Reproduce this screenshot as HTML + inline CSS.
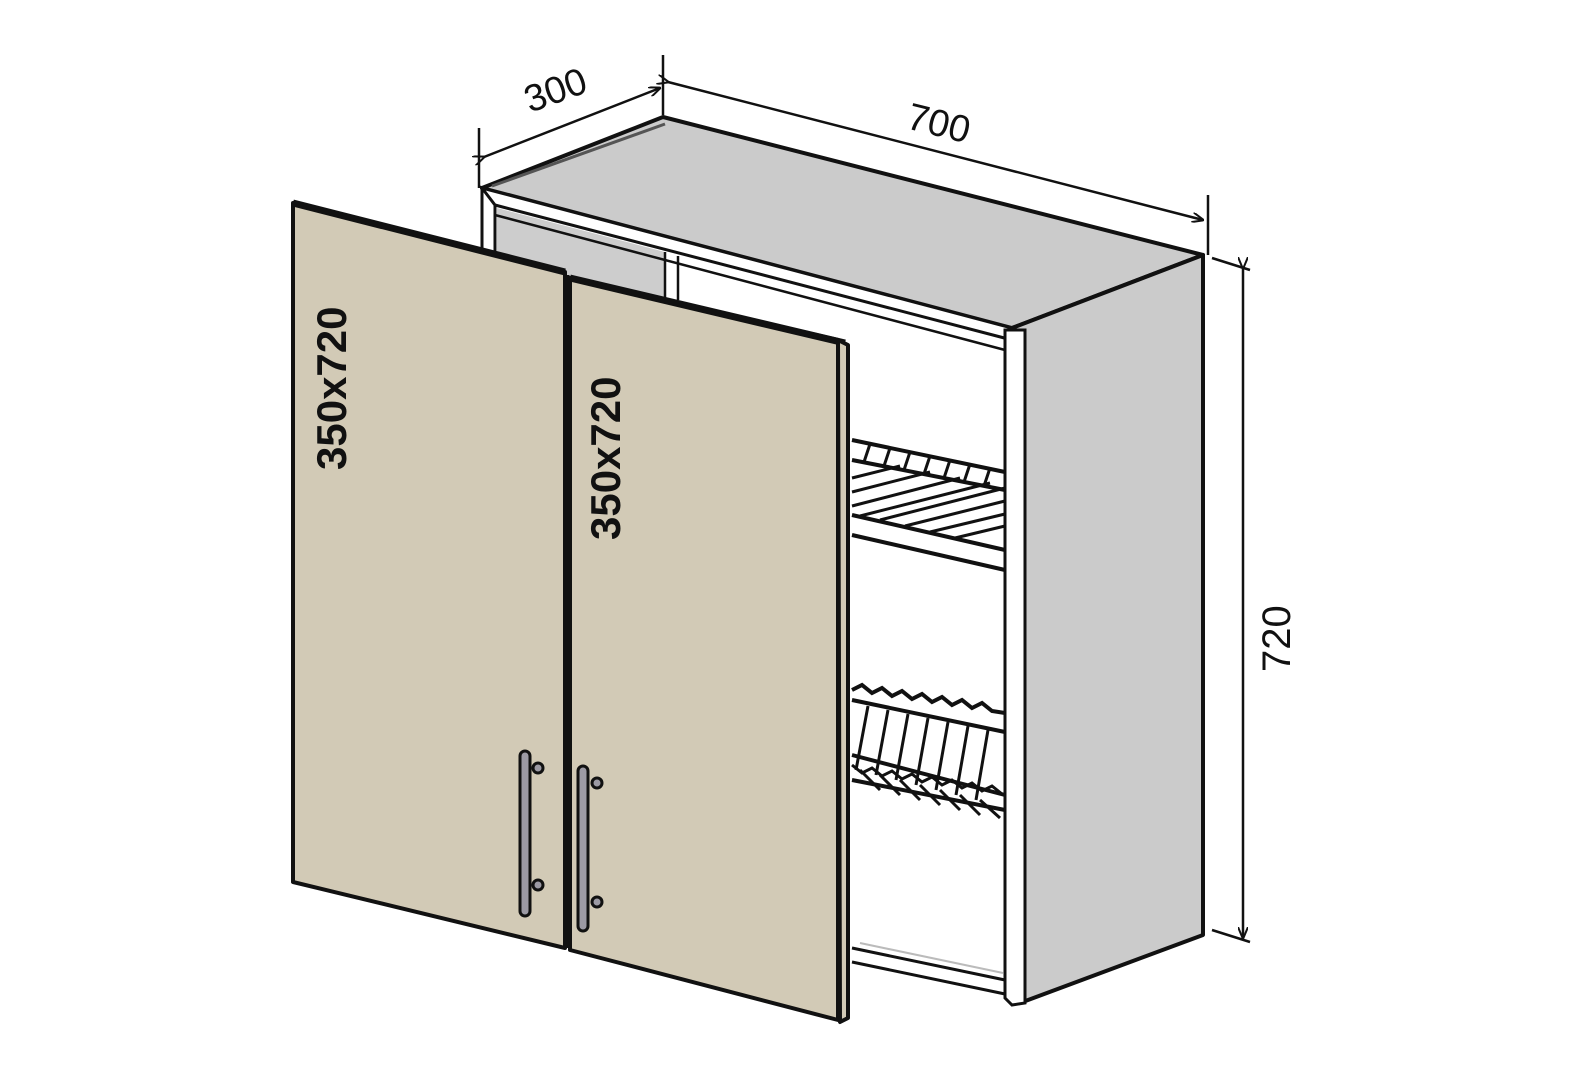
<!DOCTYPE html>
<html><head><meta charset="utf-8"><style>
html,body{margin:0;padding:0;background:#fff;width:1577px;height:1080px;overflow:hidden}
svg{display:block}
text{font-family:"Liberation Sans",sans-serif;fill:#111}
.b{font-weight:bold}
.n{font-weight:normal}
</style></head><body>
<svg width="1577" height="1080" viewBox="0 0 1577 1080" xmlns="http://www.w3.org/2000/svg">
<defs>
<marker id="ar" markerWidth="12" markerHeight="10" refX="11" refY="5" orient="auto" markerUnits="userSpaceOnUse">
<path d="M0,0 L12,5 L0,10" fill="none" stroke="#111" stroke-width="2"/></marker>
</defs>
<g stroke="#111" fill="none" stroke-width="2.5">
<line x1="479" y1="128" x2="479" y2="188"/>
<line x1="663" y1="55" x2="663" y2="115"/>
<line x1="1208" y1="195" x2="1208" y2="255"/>
<line x1="1212" y1="258" x2="1250" y2="270"/>
<line x1="1212" y1="930" x2="1250" y2="942"/>
<line x1="484" y1="157" x2="660" y2="88" marker-start="url(#ar)" marker-end="url(#ar)"/>
<line x1="668" y1="82" x2="1203" y2="220" marker-start="url(#ar)" marker-end="url(#ar)"/>
<line x1="1243" y1="268" x2="1243" y2="938" marker-start="url(#ar)" marker-end="url(#ar)"/>
</g>
<text class="n" font-size="38" transform="translate(530,113) rotate(-20)">300</text>
<text class="n" font-size="38" transform="translate(905,128) rotate(14)">700</text>
<text class="n" font-size="40" transform="translate(1290,672) rotate(-90)">720</text>

<polygon points="482,188 495,195 495,320 482,320" fill="#fff" stroke="#111" stroke-width="3"/>
<polygon points="497,208 665,252 665,300 497,260" fill="#cdcdcd"/>
<line x1="665" y1="252" x2="665" y2="300" stroke="#111" stroke-width="2.5"/>
<line x1="678" y1="256" x2="678" y2="300" stroke="#111" stroke-width="2.5"/>
<polygon points="482,188 663,117 1203,255 1012,328" fill="#cbcbcb" stroke="#111" stroke-width="4" stroke-linejoin="round"/>
<line x1="492" y1="186" x2="665" y2="124" stroke="#555" stroke-width="3"/>
<line x1="1020" y1="327" x2="1198" y2="258" stroke="#555" stroke-width="3"/>
<polygon points="482,188 1012,328 1012,340 495,205" fill="#fff" stroke="#111" stroke-width="3"/>
<line x1="495" y1="215" x2="1005" y2="350" stroke="#111" stroke-width="2.5"/>
<polygon points="1012,328 1203,255 1203,935 1020,1003" fill="#cbcbcb" stroke="#111" stroke-width="4" stroke-linejoin="round"/>
<polygon points="1005,330 1025,330 1025,1003 1012,1005 1005,998" fill="#fff" stroke="#111" stroke-width="3"/>
<line x1="852" y1="948" x2="1005" y2="980" stroke="#111" stroke-width="3"/>
<line x1="852" y1="962" x2="1005" y2="994" stroke="#111" stroke-width="3"/>
<line x1="860" y1="943" x2="1003" y2="973" stroke="#bbb" stroke-width="2"/>
<g stroke="#111" stroke-width="4" fill="none">
<line x1="852" y1="440" x2="1005" y2="472"/>
<line x1="852" y1="460" x2="1005" y2="490"/>
<line x1="852" y1="515" x2="1005" y2="550"/>
<line x1="852" y1="535" x2="1005" y2="570"/>
<g stroke-width="3">
<line x1="852" y1="478" x2="900" y2="466"/><line x1="852" y1="492" x2="930" y2="472"/>
<line x1="852" y1="506" x2="960" y2="478"/><line x1="860" y1="516" x2="990" y2="483"/>
<line x1="880" y1="520" x2="1005" y2="488"/><line x1="905" y1="526" x2="1005" y2="501"/>
<line x1="930" y1="532" x2="1005" y2="514"/><line x1="955" y1="538" x2="1005" y2="526"/>
<line x1="870" y1="444" x2="864" y2="462"/><line x1="890" y1="448" x2="884" y2="466"/>
<line x1="910" y1="452" x2="904" y2="470"/><line x1="930" y1="456" x2="924" y2="474"/>
<line x1="950" y1="460" x2="944" y2="478"/><line x1="970" y1="464" x2="964" y2="482"/>
<line x1="990" y1="468" x2="984" y2="486"/>
</g>
</g>
<g stroke="#111" stroke-width="4" fill="none">
<path d="M852,690 l10,-5 l10,8 l10,-5 l10,8 l10,-5 l10,8 l10,-5 l10,8 l10,-5 l10,8 l10,-5 l10,8 l10,-5 l10,8 l13,2"/>
<line x1="852" y1="700" x2="1005" y2="732"/>
<line x1="852" y1="755" x2="1005" y2="795"/>
<line x1="852" y1="780" x2="1005" y2="810"/>
<g stroke-width="3">
<line x1="868" y1="706" x2="856" y2="770"/><line x1="888" y1="710" x2="876" y2="775"/>
<line x1="908" y1="714" x2="896" y2="780"/><line x1="928" y1="718" x2="916" y2="785"/>
<line x1="948" y1="722" x2="936" y2="790"/><line x1="968" y1="726" x2="956" y2="795"/>
<line x1="988" y1="730" x2="976" y2="800"/>
<line x1="860" y1="770" x2="880" y2="790"/><line x1="880" y1="775" x2="900" y2="795"/>
<line x1="900" y1="780" x2="920" y2="800"/><line x1="920" y1="785" x2="940" y2="805"/>
<line x1="940" y1="790" x2="960" y2="810"/><line x1="960" y1="795" x2="980" y2="815"/>
<line x1="980" y1="800" x2="1000" y2="818"/>
<path d="M852,765 l10,8 l10,-5 l10,8 l10,-5 l10,8 l10,-5 l10,8 l10,-5 l10,8 l10,-5 l10,8 l10,-5 l10,8 l10,-5 l10,8"/>
</g>
</g>
<polygon points="293,203 565,272 565,948 293,882" fill="#d2cab6" stroke="#111" stroke-width="4" stroke-linejoin="round"/>
<line x1="293" y1="203" x2="565" y2="272" stroke="#111" stroke-width="7"/>
<polygon points="570,278 838,340 838,1020 570,950" fill="#d2cab6" stroke="#111" stroke-width="4" stroke-linejoin="round"/>
<line x1="570" y1="278" x2="845" y2="343" stroke="#111" stroke-width="7"/>
<polygon points="838,340 848,345 848,1018 840,1022" fill="#d2cab6" stroke="#111" stroke-width="4" stroke-linejoin="round"/>
<line x1="567" y1="275" x2="567" y2="948" stroke="#111" stroke-width="5"/>
<g stroke="#111" stroke-width="3">
<rect x="520" y="751" width="10" height="165" rx="5" fill="#9c9aa4"/>
<circle cx="538" cy="768" r="5" fill="#9c9aa4"/><circle cx="538" cy="885" r="5" fill="#9c9aa4"/>
<rect x="578" y="766" width="10" height="165" rx="5" fill="#9c9aa4"/>
<circle cx="597" cy="783" r="5" fill="#9c9aa4"/><circle cx="597" cy="902" r="5" fill="#9c9aa4"/>
</g>
<text class="b" font-size="42" transform="translate(346,470) rotate(-90)">350x720</text>
<text class="b" font-size="42" transform="translate(620,540) rotate(-90)">350x720</text>
</svg>
</body></html>
